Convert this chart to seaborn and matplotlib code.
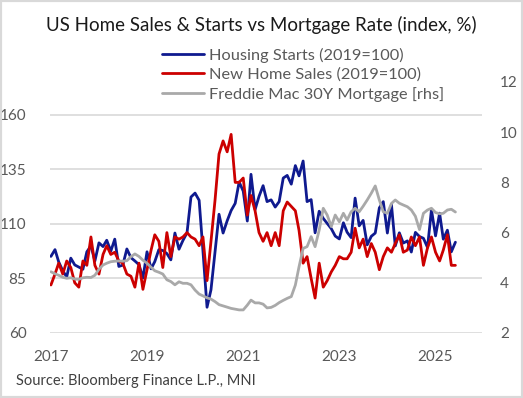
import matplotlib
matplotlib.use("Agg")
import matplotlib.pyplot as plt
from matplotlib.patches import Rectangle
import seaborn as sns
import pandas as pd

# monthly, Jan 2017 .. Jun 2025
months = pd.date_range("2017-01-01", periods=102, freq="MS")

housing_starts = [
    95.1, 98.2, 92.6, 88.5, 85.7, 94.3, 91.2, 90.2, 89.2, 97.2, 99.9, 93.0,
    101.3, 99.6, 102.5, 97.5, 103.0, 90.5, 91.1, 98.5, 94.5, 93.0, 91.3, 85.2,
    97.2, 89.4, 92.7, 98.2, 97.8, 96.4, 93.5, 105.8, 98.4, 102.4, 105.9, 122.3,
    124.1, 120.8, 97.6, 71.8, 79.8, 97.3, 114.4, 105.8, 111.4, 116.1, 119.4, 129.2,
    125.0, 111.3, 132.7, 116.5, 122.6, 127.5, 120.2, 121.0, 117.7, 120.2, 131.0, 132.2,
    128.2, 136.7, 132.0, 138.8, 120.2, 121.1, 105.9, 115.8, 112.5, 110.2, 107.8, 104.4,
    103.1, 110.5, 106.2, 103.7, 121.8, 109.1, 111.6, 100.4, 104.3, 105.8, 117.3, 120.2,
    105.8, 118.9, 99.9, 105.9, 101.2, 102.2, 97.1, 106.1, 104.2, 103.4, 99.2, 116.5,
    104.5, 114.9, 103.0, 107.1, 97.2, 101.6,
]

new_home_sales = [
    82, 87, 92, 87, 93, 90, 83, 81, 93, 91, 104, 91,
    87, 96, 100, 96, 97, 93, 92, 87, 86, 81, 92, 80,
    89, 98, 105, 102, 90, 106, 95, 104, 103, 104, 106, 104,
    103, 100, 104, 84, 102, 121, 142, 148, 143, 151, 129, 129,
    131, 114, 123, 116, 106, 102, 106, 100, 106, 100, 116, 120,
    118, 116, 107, 92, 95, 85, 76, 92, 81, 84, 88, 91,
    95, 94, 94, 97, 108, 99, 103, 95, 101, 97, 89, 95,
    99, 97, 101, 105, 97, 98, 104, 100, 104, 91, 99, 104,
    97, 93, 98, 105, 91, 91,
]

mortgage_30y = [
    4.44, 4.36, 4.30, 4.22, 4.18, 4.20, 4.15, 4.14, 4.20, 4.22, 4.21, 4.30,
    4.54, 4.71, 4.78, 4.84, 4.86, 4.87, 4.86, 4.88, 5.04, 5.15, 5.05, 4.90,
    4.78, 4.62, 4.48, 4.42, 4.35, 4.12, 4.05, 3.92, 4.04, 3.98, 3.98, 3.92,
    3.71, 3.55, 3.48, 3.40, 3.35, 3.25, 3.13, 3.08, 3.03, 2.98, 2.95, 2.92,
    2.92, 3.11, 3.31, 3.20, 3.20, 3.15, 3.00, 3.02, 3.10, 3.21, 3.30, 3.38,
    3.45, 3.91, 4.64, 5.37, 5.44, 5.84, 5.44, 6.10, 6.97, 6.70, 6.24, 6.70,
    6.43, 6.77, 6.50, 6.83, 6.97, 6.83, 7.05, 7.30, 7.57, 7.86, 7.30, 6.83,
    6.77, 7.16, 7.30, 7.17, 7.10, 7.03, 6.90, 6.65, 6.12, 6.77, 6.90, 6.97,
    6.80, 6.75, 6.77, 6.90, 6.93, 6.82,
]

df = pd.DataFrame({
    "date": months,
    "starts": housing_starts,
    "sales": new_home_sales,
    "mortgage": mortgage_30y,
})

sns.set_theme(style="white")
plt.rcParams["font.family"] = ["Lato", "DejaVu Sans"]

BLUE = "#0f1a8f"
RED = "#cc0000"
GREY = "#a9a9a9"
TXT = "#595959"

fig = plt.figure(figsize=(5.23, 3.98), dpi=100)
ax = fig.add_axes([50 / 523, 65 / 398, 432 / 523, 251 / 398])
ax2 = ax.twinx()

sns.lineplot(data=df, x="date", y="starts", ax=ax, color=BLUE, linewidth=2.0,
             label="Housing Starts (2019=100)", legend=False)
sns.lineplot(data=df, x="date", y="sales", ax=ax, color=RED, linewidth=2.0,
             label="New Home Sales (2019=100)", legend=False)
sns.lineplot(data=df, x="date", y="mortgage", ax=ax2, color=GREY, linewidth=2.0,
             label="Freddie Mac 30Y Mortgage [rhs]", legend=False)

ax.set_ylim(60, 175)
ax.set_yticks([60, 85, 110, 135, 160])
ax2.set_ylim(2, 12)
ax2.set_yticks([2, 4, 6, 8, 10, 12])
ax.set_xlim(pd.Timestamp("2016-12-25"), pd.Timestamp("2025-12-20"))
years = [2017, 2019, 2021, 2023, 2025]
ax.set_xticks([pd.Timestamp(f"{y}-01-01") for y in years])
ax.set_xticklabels([str(y) for y in years])

ax.grid(axis="y", color="#d9d9d9", linewidth=1.2)
ax.set_axisbelow(True)
ax2.grid(False)
for a in (ax, ax2):
    for s in a.spines.values():
        s.set_visible(False)
    a.set_xlabel("")
    a.set_ylabel("")
    a.tick_params(length=0, labelsize=11, labelcolor=TXT)
ax.tick_params(axis="y", pad=17)
ax.tick_params(axis="x", pad=12)
ax2.tick_params(axis="y", pad=13)

h1, l1 = ax.get_legend_handles_labels()
h2, l2 = ax2.get_legend_handles_labels()
leg = fig.legend(h1 + h2, l1 + l2, loc="upper left", bbox_to_anchor=(155 / 523, 1 - 41 / 398),
                 frameon=False, fontsize=11.8, handlelength=2.6, handletextpad=0.3,
                 labelspacing=0.3, borderaxespad=0)
for t in leg.get_texts():
    t.set_color(TXT)

fig.text(0.5, 1 - 25 / 398, "US Home Sales & Starts vs Mortgage Rate (index, %)",
         ha="center", va="center", fontsize=13.5, color="#1a1a1a")
fig.text(16 / 523, 1 - 381 / 398, "Source: Bloomberg Finance L.P., MNI",
         ha="left", va="center", fontsize=10.5, color="#404040")

fig.patches.append(Rectangle((0, 0), 1, 1, transform=fig.transFigure, fill=False,
                             edgecolor="#d9d9d9", linewidth=3))

fig.savefig("out.png", dpi=100, facecolor="white")
